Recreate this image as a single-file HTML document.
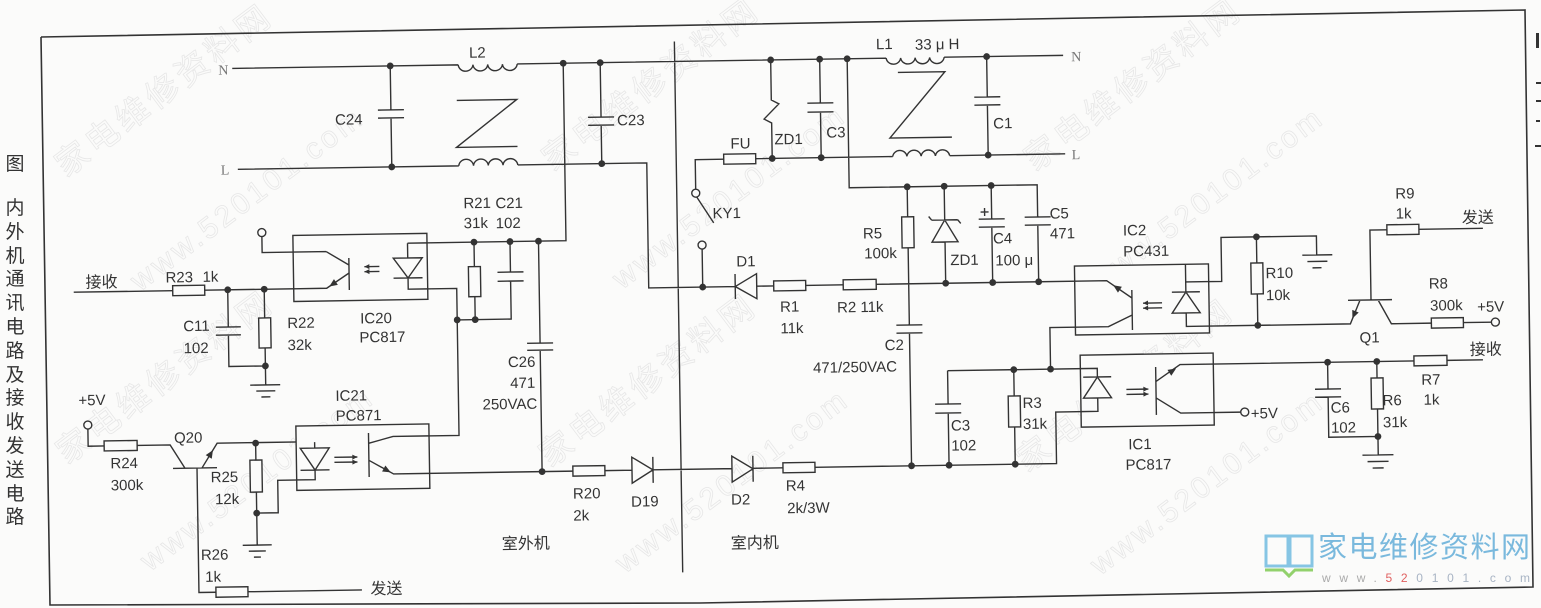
<!DOCTYPE html>
<html><head><meta charset="utf-8"><style>html,body{margin:0;padding:0;background:#fbfbfa}svg{display:block}</style></head><body>
<svg xmlns="http://www.w3.org/2000/svg" width="1541" height="608" viewBox="0 0 1541 608">
<rect width="1541" height="608" fill="#fbfbfa"/>
<g font-family="Liberation Sans,Noto Sans CJK SC,sans-serif" fill="none" stroke="#e7e7e7" stroke-width="0.8" font-size="33">
<text transform="translate(66,178) rotate(-37)" textLength="258">家电维修资料网</text>
<text transform="translate(553,172) rotate(-37)" textLength="258">家电维修资料网</text>
<text transform="translate(1035,172) rotate(-37)" textLength="258">家电维修资料网</text>
<text transform="translate(67,465) rotate(-37)" textLength="258">家电维修资料网</text>
<text transform="translate(550,468) rotate(-37)" textLength="258">家电维修资料网</text>
<text transform="translate(1027,473) rotate(-37)" textLength="258">家电维修资料网</text>
<text transform="translate(140,292) rotate(-37)" textLength="280" font-size="30">www.520101.com</text>
<text transform="translate(622,290) rotate(-37)" textLength="280" font-size="30">www.520101.com</text>
<text transform="translate(1100,292) rotate(-37)" textLength="280" font-size="30">www.520101.com</text>
<text transform="translate(150,572) rotate(-37)" textLength="280" font-size="30">www.520101.com</text>
<text transform="translate(625,574) rotate(-37)" textLength="280" font-size="30">www.520101.com</text>
<text transform="translate(1100,576) rotate(-37)" textLength="280" font-size="30">www.520101.com</text>
</g>
<polyline points="41,37 1525,10 1533,587 700,603 50,605 41,37" fill="none" stroke="#333" stroke-width="1.6"/>
<g fill="#333" stroke="none">
<rect x="1536" y="33" width="3" height="15"/><rect x="1536" y="82" width="5" height="2"/><rect x="1536" y="100" width="5" height="2"/><rect x="1536" y="120" width="4" height="2"/><rect x="1535" y="145" width="6" height="2"/>
</g>
<g font-family="Liberation Sans,Noto Sans CJK SC,sans-serif" font-size="19" fill="#333" text-anchor="middle">
<text x="15" y="170">图</text>
<text x="15" y="214">内</text><text x="15" y="238">外</text><text x="15" y="262">机</text><text x="15" y="285">通</text><text x="15" y="309">讯</text><text x="15" y="333">电</text><text x="15" y="357">路</text><text x="15" y="381">及</text><text x="15" y="404">接</text><text x="15" y="428">收</text><text x="15" y="452">发</text><text x="15" y="476">送</text><text x="15" y="500">电</text><text x="15" y="523">路</text>
</g>
<g transform="rotate(-0.9 770 304)">
<g fill="none" stroke="#333" stroke-width="1.4" stroke-linejoin="miter">
<path d="M236,60 H462 M521,60 H890 M948,60 H1067
M462,60 a7.4,7 0 0 0 14.75,0 a7.4,7 0 0 0 14.75,0 a7.4,7 0 0 0 14.75,0 a7.4,7 0 0 0 14.75,0
M890,60 a7.3,7 0 0 0 14.5,0 a7.3,7 0 0 0 14.5,0 a7.3,7 0 0 0 14.5,0 a7.3,7 0 0 0 14.5,0
M240,161 H461 M520,161 H649 V286 H735.5
M461,161 a7.4,7 0 0 1 14.75,0 a7.4,7 0 0 1 14.75,0 a7.4,7 0 0 1 14.75,0 a7.4,7 0 0 1 14.75,0
M757,286 H774 M806,286 H843.5 M876.5,286 H1107 L1132,303.7
M394,60 V104 M381,104 H407 M381,112 H407 M394,112 V161
M604,60 V114.5 M591,114.5 H617 M591,122.5 H617 M604,122.5 V161
M460,95.5 H520 L459,142.5 H520
M567,60 V237.5 H408.5 V252.3 M394,252.3 H423 L408.5,272.3 Z M394,272.3 H423 M408.5,272.3 V283.5 H457 V430.5 H391 L366.5,437
M475,237.5 V262 M475,292 V315
M511,237.5 V268 M498,268 H524 M498,277 H524 M511,277 V315 H457
M539.5,237.5 V339.5 M526.5,339.5 H552.5 M526.5,346.5 H552.5 M539.5,346.5 V468
M263,228.6 V244.6 H327 L349.6,258.4 M349.6,251.4 V283.4
M74,281.3 H173 M205,281.3 H327 L349.6,266.4
M228,281.3 V318.5 M215.5,318.5 H240.5 M215.5,326.5 H240.5 M228,326.5 V358 H264.5
M264.5,281.3 V310 M264.5,340 V377 M249,377 H279 M255,383 H274 M260,389 H269
M86,418.3 V435.5 H102 M135,435.5 H168 L182.5,459 M170.5,459 H214.5 M199.5,459 L215,434.5 H312.5 V440.9
M194.5,459 V583.5 H211.5 M243.5,583.5 H357.5
M253.5,435 V452 M253.5,484 V537 M239,537 H268 M245,543 H262 M250,549 H257
M253.5,505 H275 V472.5 H312.5 V462.9
M298,440.9 H327 L312.5,462.9 Z M298,462.9 H327
M366.5,426.7 V470.7 M366.5,454 L391,468 H570.3 M602.3,468 H629.4
M629.4,455 V481 L650.4,468 Z M650.4,455 V481 M650.4,468 H729.4
M729.4,455.5 V481.5 L750.4,468.5 Z M750.4,455.5 V481.5 M750.4,468 H780.4 M812.4,468 H1054 V416.5 H1096.2 V403.1
M365,260.3 H380 M365,265.3 H380 M332,450.5 H355 M332,455.5 H355
M678.5,40 V571
M758,158.5 H895 M952,158.5 H1067.5
M895,158.5 a7.2,7 0 0 1 14.25,0 a7.2,7 0 0 1 14.25,0 a7.2,7 0 0 1 14.25,0 a7.2,7 0 0 1 14.25,0
M726,158.5 H697.5 V188 M698.5,196 L715,222 M703,248 V286
M774.5,60 V100 L782,104 L767,119 L774.5,123 V158.5
M823.5,60 V103.8 M810.5,103.8 H836.5 M810.5,112.8 H836.5 M823.5,112.8 V158.5
M901.5,74.5 H948.5 L892.5,140 H954.5
M990.5,60 V100.4 M977.5,100.4 H1003.5 M977.5,108.4 H1003.5 M990.5,108.4 V158.5
M851,60 V189 H1039 V221.2 M1026,221.2 H1052 M1026,229.2 H1052 M1039,229.2 V286
M909,189 V219 M909,250 V327.2 M896,327.2 H922 M896,335.2 H922 M909,335.2 V468
M946,189 V222.7 M933,222.7 H959 M933,222.7 L930,219 M959,222.7 L962,226.4 M946,222.7 L933,244.7 H959 Z M946,244.7 V286
M993,189 V222.5 M980,222.5 H1006 M980,230.5 H1006 M993,230.5 V286 M982,215.4 H990 M986,211.4 V219.4
M735.5,273.5 V298.5 M757,273.5 V298.5 L735.5,286 Z
M1132,295.7 V335.7 M1132,320.7 L1108,332 H1049.5 V373.5
M1143,309 H1162 M1143,314 H1162
M1186,288.5 H1222 V244.5 H1317.4 V263.6 M1186,288.5 V298.5 M1172,298.5 H1200 M1186,298.5 L1172,319.5 H1200 Z M1186,319.5 V333 H1350 L1360,309.4
M1303,263.6 H1333 M1308,270 H1328 M1313,276.4 H1322
M1257.4,244.5 V270.6 M1257.4,301.6 V333
M1348,309.4 H1392 M1371,309.4 V239.5 H1388 M1420,239.5 H1484 M1378,309.4 L1391,333.5 H1431 M1463,333.5 H1491
M946.5,373.5 H1096.2 V382.1 M946.5,373.5 V406.8 M933.5,406.8 H959.5 M933.5,415.8 H959.5 M946.5,415.8 V468
M1012.7,373.5 V399.8 M1012.7,430.8 V468
M1082,382.1 H1110 M1096.2,382.1 L1082,403.1 H1110 Z M1096.2,403.1 V416.5
M1125,395 H1147 M1125,400 H1147
M1154.6,373 V421 M1154.6,387.6 L1179,371 H1413 M1446,371 H1482 M1154.6,404 L1179,419.5 H1239
M1326.6,371 V397.8 M1313.6,397.8 H1339.6 M1313.6,405.8 H1339.6 M1326.6,405.8 V446 H1375.8
M1375.8,371 V387.5 M1375.8,418.5 V464.5 M1360,464.5 H1391 M1365,471 H1386 M1370,477.5 H1381"/>
</g>
<g fill="#fbfbfa" stroke="#333" stroke-width="1.4">
<rect x="294" y="228" width="134" height="66"/>
<rect x="294" y="418.6" width="133" height="64.3"/>
<rect x="1075" y="270.8" width="134" height="69"/>
<rect x="1079.3" y="360" width="133" height="72"/>
</g>
<g fill="none" stroke="#333" stroke-width="1.4">
<path d="M408.5,237.5 V252.3 M394,252.3 H423 L408.5,272.3 Z M394,272.3 H423 M408.5,272.3 V283.5 H428
M349.6,251.4 V283.4 M327,244.6 L349.6,258.4 M349.6,266.4 L327,281.3 H294 M294,244.6 H327 M408.5,237.5 H428
M365,260.3 H380 M365,265.3 H380
M298,440.9 H327 L312.5,462.9 Z M298,462.9 H327 M312.5,435 V440.9 M312.5,462.9 V472.5 H294
M366.5,426.7 V470.7 M366.5,437 L391,430.5 H427 M366.5,454 L391,468 H427
M332,450.5 H355 M332,455.5 H355
M1075,286 H1107 L1132,303.7 M1132,295.7 V335.7 M1132,320.7 L1108,332 H1075
M1143,309 H1162 M1143,314 H1162
M1186,270.8 V298.5 M1172,298.5 H1200 M1186,298.5 L1172,319.5 H1200 Z M1186,319.5 V333 H1209 M1186,288.5 H1209
M1079.3,373.5 H1096.2 V382.1 M1082,382.1 H1110 M1096.2,382.1 L1082,403.1 H1110 Z M1096.2,403.1 V416.5 H1079.3
M1125,395 H1147 M1125,400 H1147
M1154.6,373 V421 M1154.6,387.6 L1179,371 H1212.3 M1154.6,404 L1179,419.5 H1212.3"/>
<rect x="173" y="276.3" width="32" height="10" fill="#fbfbfa"/>
<rect x="258.5" y="310" width="12" height="30" fill="#fbfbfa"/>
<rect x="469" y="262" width="12" height="30" fill="#fbfbfa"/>
<rect x="102" y="430.5" width="33" height="10" fill="#fbfbfa"/>
<rect x="211.5" y="578.5" width="32" height="10" fill="#fbfbfa"/>
<rect x="247.5" y="452" width="12" height="32" fill="#fbfbfa"/>
<rect x="570.3" y="463" width="32" height="10" fill="#fbfbfa"/>
<rect x="780.4" y="463" width="32" height="10" fill="#fbfbfa"/>
<rect x="726" y="153.5" width="32" height="10" fill="#fbfbfa"/>
<rect x="774" y="281" width="32" height="10" fill="#fbfbfa"/>
<rect x="843.5" y="281" width="33" height="10" fill="#fbfbfa"/>
<rect x="903" y="219" width="12" height="31" fill="#fbfbfa"/>
<rect x="1251.4" y="270.6" width="12" height="31" fill="#fbfbfa"/>
<rect x="1388" y="234.5" width="32" height="10" fill="#fbfbfa"/>
<rect x="1431" y="328.5" width="32" height="10" fill="#fbfbfa"/>
<rect x="1006.7" y="399.8" width="12" height="31" fill="#fbfbfa"/>
<rect x="1413" y="366" width="33" height="10" fill="#fbfbfa"/>
<rect x="1369.8" y="387.5" width="12" height="31" fill="#fbfbfa"/>
<circle cx="263" cy="224.6" r="4" fill="#fbfbfa"/>
<circle cx="86" cy="414.3" r="4" fill="#fbfbfa"/>
<circle cx="697.5" cy="192" r="4" fill="#fbfbfa"/>
<circle cx="703" cy="244" r="4" fill="#fbfbfa"/>
<circle cx="1495" cy="333.5" r="4" fill="#fbfbfa"/>
<circle cx="1243" cy="419.5" r="4" fill="#fbfbfa"/>
</g>
<g fill="#333" stroke="none">
<path d="M209.4,450 L210.7,441.3 L203.4,446.2 Z"/>
<path d="M338.2,278.1 L329.6,279.6 L334.4,272.3 Z"/>
<path d="M379.5,465.4 L388.2,466.4 L382.9,459.4 Z"/>
<path d="M1118.1,298.1 L1113.5,290.6 L1122.1,292.3 Z"/>
<path d="M1170.1,382.1 L1175,374.9 L1166.4,376.1 Z"/>
<path d="M1358.5,321.8 L1352.1,327.7 L1352.1,319 Z"/>
<path d="M365,260.3 l5,-2.5 v5 z M365,265.3 l5,-2.5 v5 z"/>
<path d="M355,450.5 l-5,-2.5 v5 z M355,455.5 l-5,-2.5 v5 z"/>
<path d="M1143,309 l5,-2.5 v5 z M1143,314 l5,-2.5 v5 z"/>
<path d="M1147,395 l-5,-2.5 v5 z M1147,400 l-5,-2.5 v5 z"/>
<circle cx="394" cy="60" r="3.4"/><circle cx="394" cy="161" r="3.4"/><circle cx="567" cy="60" r="3.4"/><circle cx="604" cy="60" r="3.4"/><circle cx="604" cy="161" r="3.4"/>
<circle cx="475" cy="237.5" r="3.4"/><circle cx="511" cy="237.5" r="3.4"/><circle cx="539.5" cy="237.5" r="3.4"/><circle cx="457" cy="315" r="3.4"/><circle cx="475" cy="315" r="3.4"/>
<circle cx="228" cy="281.3" r="3.4"/><circle cx="264.5" cy="281.3" r="3.4"/><circle cx="264.5" cy="358" r="3.4"/><circle cx="253.5" cy="435" r="3.4"/><circle cx="253.5" cy="505" r="3.4"/><circle cx="539.5" cy="468" r="3.4"/>
<circle cx="774.5" cy="60" r="3.4"/><circle cx="823.5" cy="60" r="3.4"/><circle cx="851" cy="60" r="3.4"/><circle cx="990.5" cy="60" r="3.4"/>
<circle cx="774.5" cy="158.5" r="3.4"/><circle cx="823.5" cy="158.5" r="3.4"/><circle cx="990.5" cy="158.5" r="3.4"/>
<circle cx="703" cy="286" r="3.4"/><circle cx="909" cy="189" r="3.4"/><circle cx="946" cy="189" r="3.4"/><circle cx="993" cy="189" r="3.4"/>
<circle cx="946" cy="286" r="3.4"/><circle cx="993" cy="286" r="3.4"/><circle cx="1039" cy="286" r="3.4"/>
<circle cx="909" cy="468" r="3.4"/><circle cx="946.5" cy="468" r="3.4"/><circle cx="1012.7" cy="468" r="3.4"/><circle cx="1012.7" cy="373.5" r="3.4"/><circle cx="1049.5" cy="373.5" r="3.4"/>
<circle cx="1257.4" cy="244.5" r="3.4"/><circle cx="1257.4" cy="333" r="3.4"/><circle cx="1326.6" cy="371" r="3.4"/><circle cx="1375.8" cy="371" r="3.4"/><circle cx="1375.8" cy="446" r="3.4"/>
</g>
<g font-family="Liberation Serif,serif" font-size="14" fill="#777">
<text x="222" y="66">N</text><text x="223" y="166">L</text>
<text x="1075" y="66">N</text><text x="1074" y="164">L</text>
</g>
<g font-family="Liberation Sans,sans-serif" font-size="15" fill="#333">
<text x="473" y="53">L2</text>
<text x="338" y="118">C24</text>
<text x="620" y="123">C23</text>
<text x="465" y="203.5">R21</text><text x="465" y="223.5">31k</text>
<text x="497" y="204">C21</text><text x="497" y="224">102</text>
<text x="166" y="273">R23</text><text x="203" y="273">1k</text>
<text x="183" y="322">C11</text><text x="183" y="344">102</text>
<text x="287" y="320.5">R22</text><text x="287" y="342.5">32k</text>
<text x="360" y="317">IC20</text><text x="359" y="336">PC817</text>
<text x="77" y="394.5">+5V</text>
<text x="334" y="394">IC21</text><text x="334" y="414">PC871</text>
<text x="172" y="433.5">Q20</text>
<text x="108" y="458">R24</text><text x="108" y="480">300k</text>
<text x="208" y="473.5">R25</text><text x="212" y="495.5">12k</text>
<text x="197" y="551">R26</text><text x="201" y="573">1k</text>
<text x="507" y="363">C26</text><text x="509" y="384">471</text><text x="481" y="405">250VAC</text>
<text x="570" y="495.5">R20</text><text x="570" y="517.5">2k</text>
<text x="628" y="504.5">D19</text>
<text x="728" y="504">D2</text>
<text x="783" y="491">R4</text><text x="784" y="513.5">2k/3W</text>
<text x="733" y="148">FU</text>
<text x="777" y="144.5">ZD1</text>
<text x="714" y="217.5">KY1</text>
<text x="829" y="138.5">C3</text>
<text x="880" y="51">L1</text><text x="919" y="52">33 μ H</text>
<text x="996" y="132">C1</text>
<text x="737" y="266">D1</text>
<text x="780" y="312">R1</text><text x="780" y="333.5">11k</text>
<text x="837" y="313.5">R2  11k</text>
<text x="864" y="240">R5</text><text x="865" y="260">100k</text>
<text x="951" y="268">ZD1</text>
<text x="994" y="247">C4</text><text x="996" y="269">100 μ</text>
<text x="1051" y="223">C5</text><text x="1051" y="243">471</text>
<text x="884" y="352">C2</text><text x="812" y="373.5">471/250VAC</text>
<text x="1124" y="241">IC2</text><text x="1124" y="262">PC431</text>
<text x="1266" y="286">R10</text><text x="1266" y="308">10k</text>
<text x="1397" y="208.5">R9</text><text x="1397" y="228.5">1k</text>
<text x="1429" y="299">R8</text><text x="1430" y="321">300k</text><text x="1477" y="323">+5V</text>
<text x="1359" y="352">Q1</text>
<text x="1420" y="395">R7</text><text x="1422" y="415">1k</text>
<text x="1329" y="421.5">C6</text><text x="1329" y="441.5">102</text>
<text x="1381" y="415">R6</text><text x="1381" y="437">31k</text>
<text x="1126" y="455">IC1</text><text x="1123" y="475.5">PC817</text>
<text x="1249" y="426">+5V</text>
<text x="949" y="433.5">C3</text><text x="949" y="453.5">102</text>
<text x="1021" y="412">R3</text><text x="1021" y="433">31k</text>
</g>
<g font-family="Liberation Sans,Noto Sans CJK SC,sans-serif" font-size="16" fill="#333">
<text x="86" y="277">接收</text>
<text x="366" y="588">发送</text>
<text x="498" y="545">室外机</text>
<text x="727" y="548">室内机</text>
<text x="1463" y="234">发送</text>
<text x="1469" y="366">接收</text>
</g>
</g>
<g>
<rect x="1266" y="536" width="22" height="30" fill="none" stroke="#86c5e4" stroke-width="3"/>
<rect x="1290" y="536" width="22" height="30" fill="none" stroke="#86c5e4" stroke-width="3"/>
<path d="M1265,570 H1283 L1289,576 L1295,570 H1313" fill="none" stroke="#92d16c" stroke-width="3"/>
<text x="1318" y="557" font-family="Liberation Sans,Noto Sans CJK SC,sans-serif" font-size="29" fill="#7ab9dd" textLength="212">家电维修资料网</text>
<text x="1322" y="582" font-family="Liberation Sans,sans-serif" font-size="12" fill="#aaa" textLength="208"><tspan>www.</tspan><tspan fill="#e06060">52</tspan><tspan fill="#a8b4c4">0101.com</tspan></text>
</g>
</svg>
</body></html>
